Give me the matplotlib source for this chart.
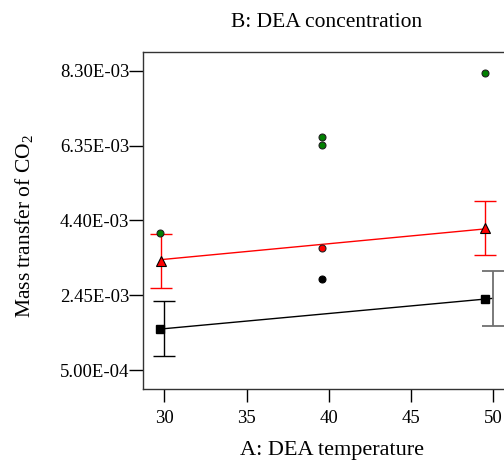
import matplotlib
matplotlib.use("Agg")
import matplotlib.pyplot as plt
from matplotlib.ticker import FuncFormatter

plt.rcParams['font.family'] = ['Liberation Serif', 'DejaVu Serif']
plt.rcParams['mathtext.fontset'] = 'custom'
plt.rcParams['mathtext.rm'] = 'Liberation Serif'

# Interaction lines (predicted means at low / high DEA concentration)
x_levels = [30, 50]
low_line = [1.58e-3, 2.37e-3]
high_line = [3.38e-3, 4.18e-3]

# Mean markers and LSD bars
low_marker_x = [29.75, 49.5]
low_marker_y = [1.58e-3, 2.36e-3]
low_err_x = [30.0, 50.0]
low_err = [0.71e-3, 0.72e-3]

high_marker_x = [29.8, 49.52]
high_marker_y = [3.35e-3, 4.20e-3]
high_err = [0.71e-3, 0.71e-3]

# Design points
green_x = [29.75, 39.62, 39.62, 49.5]
green_y = [4.07e-3, 6.57e-3, 6.36e-3, 8.25e-3]
red_pt_x = [39.62]
red_pt_y = [3.67e-3]
black_pt_x = [39.62]
black_pt_y = [2.88e-3]

xticks = [30, 35, 40, 45, 50]
yticks = [5.0e-4, 2.45e-3, 4.40e-3, 6.35e-3, 8.30e-3]

fig = plt.figure(figsize=(5.04, 4.62), dpi=100)
ax = fig.add_axes([0.2843, 0.1574, 0.7355, 0.7307])

# lines
ax.plot(x_levels, low_line, color='black', lw=1.0, zorder=2)
ax.plot(high_marker_x, high_line, color='red', lw=1.0, zorder=2)

# error bars
ax.errorbar([low_err_x[0]], [low_marker_y[0]], yerr=[low_err[0]], fmt='none',
            ecolor='black', elinewidth=1.0, capsize=8, capthick=1.0, zorder=2)
ax.errorbar([low_err_x[1]], [low_marker_y[1]], yerr=[low_err[1]], fmt='none',
            ecolor='#707070', elinewidth=1.3, capsize=8, capthick=1.3, zorder=2)
ax.errorbar(high_marker_x, high_marker_y, yerr=high_err, fmt='none',
            ecolor='red', elinewidth=1.0, capsize=8, capthick=1.0, zorder=2)

# mean markers
ax.plot(low_marker_x, low_marker_y, 's', color='black', ms=5.5, zorder=3, ls='none')
ax.plot(high_marker_x, high_marker_y, '^', mfc='red', mec='black', mew=0.8, ms=7, zorder=3, ls='none')

# design points
ax.plot(green_x, green_y, 'o', mfc='#008000', mec='#202020', mew=0.8, ms=5, ls='none', zorder=4)
ax.plot(red_pt_x, red_pt_y, 'o', mfc='red', mec='#202020', mew=0.8, ms=5, ls='none', zorder=4)
ax.plot(black_pt_x, black_pt_y, 'o', mfc='black', mec='black', mew=0.8, ms=5, ls='none', zorder=4)

ax.set_xlim(28.71, 51.29)
ax.set_ylim(0.0, 8.8e-3)
ax.set_xticks(xticks)
ax.set_yticks(yticks)
ax.yaxis.set_major_formatter(FuncFormatter(lambda v, p: f"{v:.2E}"))
ax.tick_params(axis='both', direction='out', labelsize=13.5, width=1.0, color='black')
ax.tick_params(axis='y', length=10, pad=0)
ax.tick_params(axis='x', length=9, pad=6)
for s in ax.spines.values():
    s.set_linewidth(1.0)
    s.set_color('#333333')

ax.set_xlabel('A: DEA temperature', fontsize=16, labelpad=10, x=0.51)
ax.set_ylabel('Mass transfer of CO$_2$', fontsize=15.5, labelpad=17, y=0.482)
ax.set_title('B: DEA concentration', fontsize=15.5, pad=18, x=0.495)

fig.savefig('out.png', dpi=100)
